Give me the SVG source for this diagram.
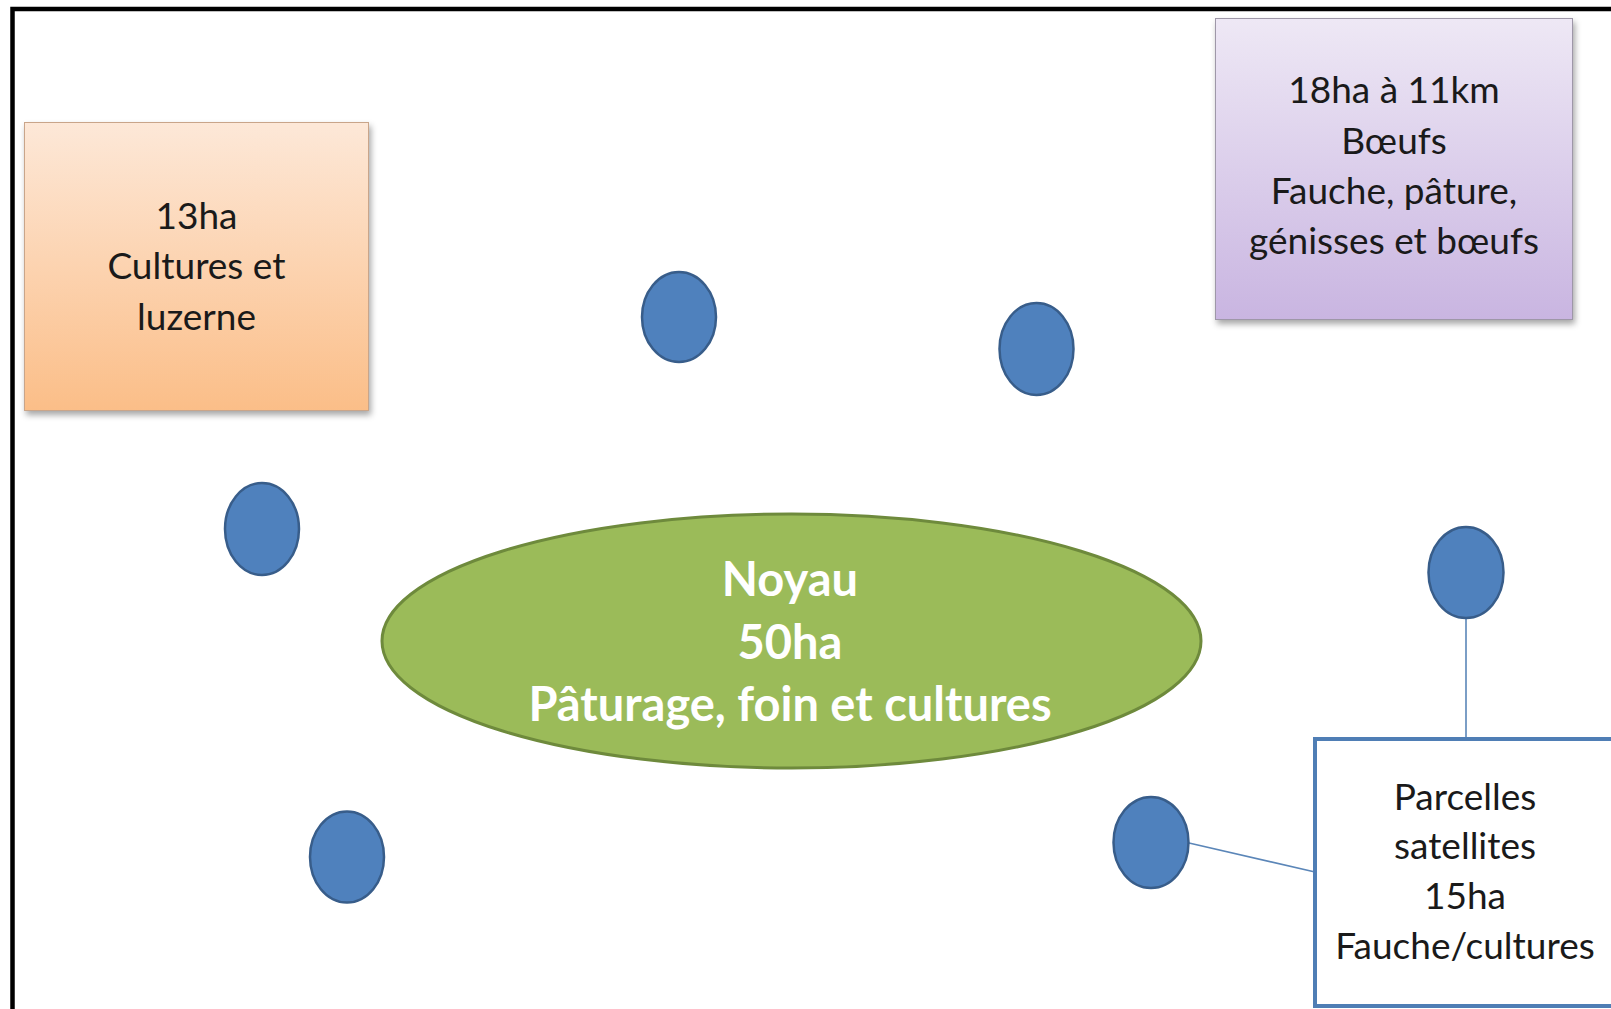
<svg xmlns="http://www.w3.org/2000/svg" width="1611" height="1009" viewBox="0 0 1611 1009">
  <defs>
    <linearGradient id="gOrange" x1="0" y1="0" x2="0" y2="1">
      <stop offset="0" stop-color="#FDE8D8"/>
      <stop offset="1" stop-color="#FBBE88"/>
    </linearGradient>
    <linearGradient id="gPurple" x1="0" y1="0" x2="0" y2="1">
      <stop offset="0" stop-color="#EEE8F5"/>
      <stop offset="1" stop-color="#C9B5E1"/>
    </linearGradient>
    <filter id="shadow" x="-10%" y="-10%" width="125%" height="125%">
      <feDropShadow dx="2" dy="4" stdDeviation="3" flood-color="#000" flood-opacity="0.35"/>
    </filter>
  </defs>
  <style>
    .txt { font-family: Lato, "Open Sans", sans-serif; font-size: 37px; fill: #1a1a1a; text-anchor: middle; }
    .big { font-family: Lato, "Open Sans", sans-serif; font-size: 47px; font-weight: bold; fill: #ffffff; text-anchor: middle; }
    .dot { fill: #4F81BD; stroke: #385D8A; stroke-width: 2.5; }
    .conn { stroke: #5B86B8; stroke-width: 1.6; fill: none; }
  </style>
  <rect x="0" y="0" width="1611" height="1009" fill="#ffffff"/>
  <path d="M12.5,1009 V9 H1611" fill="none" stroke="#000" stroke-width="4.5"/>

  <g id="connectors">
    <line class="conn" x1="1466" y1="618" x2="1466" y2="739"/>
    <line class="conn" x1="1189" y1="843" x2="1315" y2="872"/>
  </g>

  <g id="orange">
    <rect x="24.5" y="122.5" width="344" height="288" fill="url(#gOrange)" stroke="#C9A58A" stroke-width="1" filter="url(#shadow)"/>
    <text class="txt" x="196.5" y="229">13ha</text>
    <text class="txt" x="196.5" y="279">Cultures et</text>
    <text class="txt" x="196.5" y="330">luzerne</text>
  </g>

  <g id="purple">
    <rect x="1215.5" y="18.5" width="357" height="301" fill="url(#gPurple)" stroke="#9E97A8" stroke-width="1" filter="url(#shadow)"/>
    <text class="txt" x="1394" y="103">18ha à 11km</text>
    <text class="txt" x="1394" y="154">Bœufs</text>
    <text class="txt" x="1394" y="204">Fauche, pâture,</text>
    <text class="txt" x="1394" y="254">génisses et bœufs</text>
  </g>

  <g id="noyau">
    <ellipse cx="791.5" cy="641" rx="409.5" ry="127" fill="#9BBB59" stroke="#6E8A3C" stroke-width="3"/>
    <text class="big" x="790" y="596">Noyau</text>
    <text class="big" x="790" y="659">50ha</text>
    <text class="big" x="790" y="721">Pâturage, foin et cultures</text>
  </g>

  <g id="dot1"><ellipse class="dot" cx="679" cy="317" rx="37" ry="45"/></g>
  <g id="dot2"><ellipse class="dot" cx="1036.5" cy="349" rx="37" ry="46"/></g>
  <g id="dot3"><ellipse class="dot" cx="262" cy="529" rx="37" ry="46"/></g>
  <g id="dot4"><ellipse class="dot" cx="347" cy="857" rx="37" ry="45.5"/></g>
  <g id="dot5"><ellipse class="dot" cx="1151" cy="842.5" rx="37.5" ry="45.5"/></g>
  <g id="dot6"><ellipse class="dot" cx="1466" cy="572.5" rx="37.5" ry="45.5"/></g>

  <g id="satellites">
    <rect x="1315" y="739" width="400" height="267" fill="#ffffff" stroke="#4F7EB5" stroke-width="4"/>
    <text class="txt" x="1465" y="810">Parcelles</text>
    <text class="txt" x="1465" y="859">satellites</text>
    <text class="txt" x="1465" y="909">15ha</text>
    <text class="txt" x="1465" y="959">Fauche/cultures</text>
  </g>
</svg>
